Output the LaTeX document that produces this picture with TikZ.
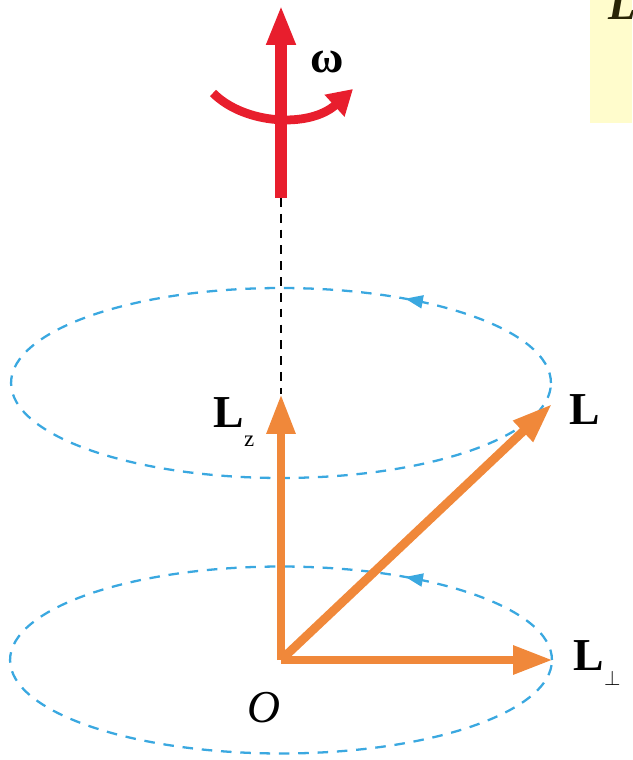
\documentclass[tikz,border=0pt]{standalone}
\usepackage{fontspec}
\setmainfont{Liberation Serif}
\usetikzlibrary{arrows.meta,decorations.markings}

\definecolor{spinred}{RGB}{232,30,45}
\definecolor{vecorange}{RGB}{240,136,58}
\definecolor{orbitblue}{RGB}{58,168,224}
\definecolor{notepad}{RGB}{255,252,204}
\definecolor{noteink}{RGB}{40,36,5}

\begin{document}
\begin{tikzpicture}[
  x=0.02cm, y=-0.02cm,
  spin/.style={draw=spinred, line width=7pt, -{Triangle[length=8mm,width=5.4mm]}},
  twist/.style={draw=spinred, line width=5pt, -{Triangle[length=5mm,width=5.6mm]}},
  vec/.style={draw=vecorange, line width=5pt, -{Triangle[length=8mm,width=5.4mm]}},
  % small direction mark sits on the top of each orbit
  orbit/.style={draw=orbitblue, line width=1.3pt, dash pattern=on 6pt off 5pt,
    postaction={decorate},
    decoration={markings, mark=at position 0.147 with {\arrow{Triangle[length=3.5mm,width=2.6mm]}}}},
  axis/.style={draw=black, line width=1.1pt, dash pattern=on 5pt off 4pt},
  lbl/.style={font=\fontsize{26}{30}\selectfont\bfseries, inner sep=0pt},
  sub/.style={font=\fontsize{13}{13}\selectfont\mdseries},
]
\useasboundingbox (0,0) rectangle (632,760);

% Note box (cut off at the edge)
\fill[notepad] (590,0) rectangle (632,123);
\begin{scope}
  \clip (590,0) rectangle (632,123);
  \node[lbl, text=noteink, font=\fontsize{26}{30}\selectfont\bfseries\itshape, anchor=base west] (notetxt) at (608,20) {L};
\end{scope}

% Points
\coordinate (O) at (281,660);
\coordinate (lztip) at (281,394);
\coordinate (ltip) at (552,404);
\coordinate (lptip) at (553,660);
\coordinate (spinbot) at (281,198);
\coordinate (spintop) at (281,5);
\coordinate (twistL) at (213,93);
\coordinate (twistR) at (353,89);

% Orbits of L and L_perp
\draw[orbit] (281,383) ellipse [x radius=5.4cm, y radius=1.9cm];
\draw[orbit] (281,660) ellipse [x radius=5.42cm, y radius=1.87cm];

% Rotation axis
\draw[axis] (spinbot) -- (lztip);
\draw[twist] (twistL) .. controls (245,125) and (310,128) .. (twistR);
\draw[spin] (spinbot) -- (spintop);
\node[lbl] (omegalbl) at (327,62) {ω};

% Angular momentum vectors
\draw[vec] (O) -- (lztip);
\draw[vec] (O) -- (ltip);
\draw[vec] (O) -- (lptip);

\node[lbl] (lzlbl) at (234,422) {L\raisebox{-11pt}{\fontsize{13}{13}\selectfont\mdseries z}};
\node[lbl] (llbl) at (585,410) {L};
\node[lbl] (lplbl) at (597,663) {L\raisebox{-9pt}{\fontsize{13}{13}\selectfont\mdseries$\perp$}};
\node[lbl, font=\fontsize{26}{30}\selectfont\itshape] (olbl) at (264,708) {O};

\end{tikzpicture}
\end{document}
